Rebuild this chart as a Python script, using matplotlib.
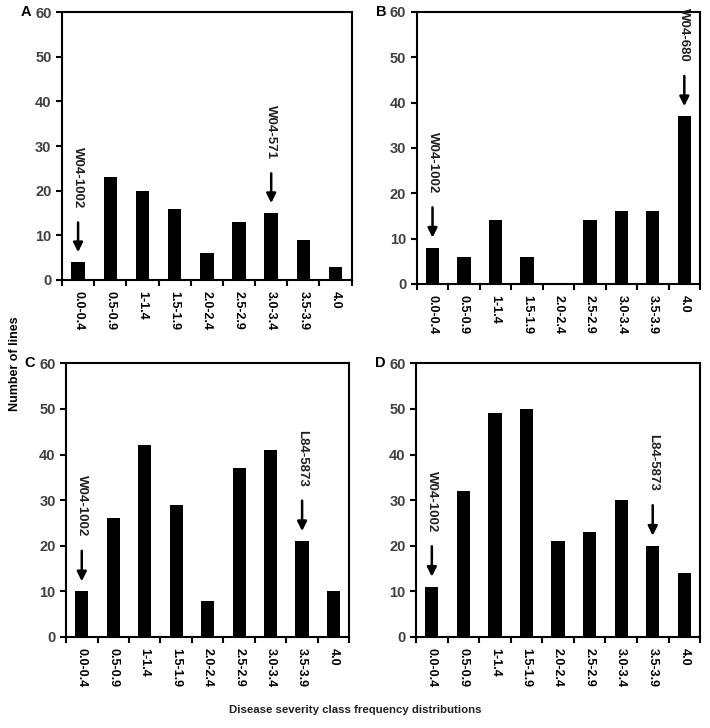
import matplotlib.pyplot as plt
import numpy as np

plt.rcParams["font.family"] = ["Liberation Sans", "DejaVu Sans"]

classes = ["0.0-0.4", "0.5-0.9", "1-1.4", "1.5-1.9", "2.0-2.4",
           "2.5-2.9", "3.0-3.4", "3.5-3.9", "4.0"]

counts_a = [4, 23, 20, 16, 6, 13, 15, 9, 3]
counts_b = [8, 6, 14, 6, 0, 14, 16, 16, 37]
counts_c = [10, 26, 42, 29, 8, 37, 41, 21, 10]
counts_d = [11, 32, 49, 50, 21, 23, 30, 20, 14]

# marked lines: (class index, line name)
marks_a = [(0, "W04-1002"), (6, "W04-571")]
marks_b = [(0, "W04-1002"), (8, "W04-680")]
marks_c = [(0, "W04-1002"), (7, "L84-5873")]
marks_d = [(0, "W04-1002"), (7, "L84-5873")]

panels = [
    ("A", counts_a, marks_a, [0.0873, 0.6154, 0.408, 0.368]),
    ("B", counts_b, marks_b, [0.587, 0.610, 0.399, 0.3736]),
    ("C", counts_c, marks_c, [0.093, 0.125, 0.399, 0.376]),
    ("D", counts_d, marks_d, [0.586, 0.125, 0.400, 0.376]),
]

tick_color = "#404040"
narrow = ["Liberation Sans Narrow", "Liberation Sans", "DejaVu Sans"]

fig = plt.figure(figsize=(7.10, 7.28), dpi=100)

for letter, counts, marks, rect in panels:
    ax = fig.add_axes(rect)
    x = np.arange(len(classes))
    ax.bar(x, counts, width=0.42, color="black")
    ax.set_xlim(-0.5, len(classes) - 0.5)
    ax.set_ylim(0, 60)
    ax.set_yticks(range(0, 61, 10))
    ax.set_xticks(x)
    ax.set_xticklabels(classes, rotation=270, fontsize=9, fontweight="bold",
                       family=narrow, color="black")
    ax.set_xticks(np.arange(-0.5, len(classes)), minor=True)
    ax.tick_params(axis="x", which="major", length=0, pad=8)
    ax.tick_params(axis="x", which="minor", length=4, width=1.5,
                   direction="out")
    ax.tick_params(axis="y", length=4, width=1.5, direction="out",
                   labelsize=10.5, labelcolor=tick_color)
    for lab in ax.get_yticklabels():
        lab.set_fontweight("bold")
    for sp in ax.spines.values():
        sp.set_linewidth(1.5)

    # arrow + rotated name above the marked class
    for idx, name in marks:
        v = counts[idx]
        ax.annotate("", xy=(idx, v + 1.6), xytext=(idx, v + 9.5),
                    arrowprops=dict(arrowstyle="-|>", color="black", lw=1.8,
                                    mutation_scale=14))
        ax.text(idx, v + 12, name, rotation=270, ha="center", va="bottom",
                fontsize=9.5, fontweight="bold", family=narrow,
                color="#202020")

    fig.text(rect[0] - 0.058, rect[1] + rect[3], letter, fontsize=10.5,
             fontweight="bold", va="center", ha="left")

fig.text(0.021, 0.5, "Number of lines", rotation=90, ha="center",
         va="center", fontsize=9, fontweight="bold")
fig.text(0.5, 0.025, "Disease severity class frequency distributions",
         ha="center", va="center", fontsize=8.2, fontweight="bold",
         color="#202020")

fig.savefig("out.png", dpi=100)
